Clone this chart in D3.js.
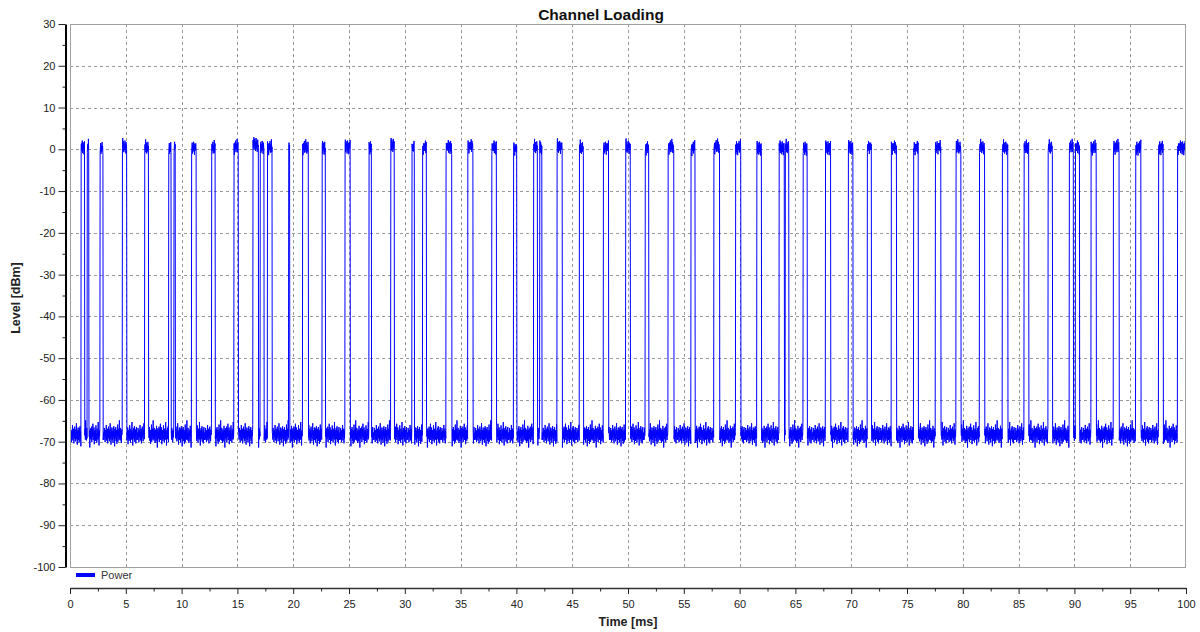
<!DOCTYPE html>
<html><head><meta charset="utf-8">
<script src="https://cdn.jsdelivr.net/npm/d3@7"></script>
<style>
body{margin:0;background:#fff}
svg{display:block}
text{font-family:"Liberation Sans",Arial,sans-serif}
</style>
</head><body>
<svg id="chart" width="1200" height="632"></svg>
<script>
// ---------- data ----------
const chartTitle = "Channel Loading";
const xLabel = "Time [ms]";
const yLabel = "Level [dBm]";
const seriesName = "Power";
const xTicks = [0,5,10,15,20,25,30,35,40,45,50,55,60,65,70,75,80,85,90,95,100];
const yTicks = [30,20,10,0,-10,-20,-30,-40,-50,-60,-70,-80,-90,-100];

// pulse on/off times (ms) and top level (dBm)
const pulseStart = [1.0,1.55,2.7,4.7,6.7,8.85,9.32,10.9,12.7,14.7,16.4,17.05,17.7,19.6,20.85,22.6,24.65,26.8,28.75,30.65,31.6,33.7,35.65,37.8,39.75,41.55,42.1,43.65,45.65,47.8,49.8,51.55,53.6,55.65,57.7,59.65,61.55,63.55,64.1,65.7,67.7,69.75,71.45,73.6,75.6,77.55,79.4,81.5,83.55,85.5,87.65,89.55,90.1,91.5,93.5,95.5,97.55,99.25];
const pulseEnd   = [1.3,1.7,2.97,5.1,7.05,9.07,9.43,11.3,13.0,15.1,16.9,17.4,18.1,19.7,21.35,22.9,25.1,27.0,29.05,30.85,31.95,34.2,36.1,38.2,40.05,41.9,42.3,44.1,46.0,48.25,50.2,51.85,54.1,56.0,58.2,60.1,61.95,64.0,64.4,66.05,68.15,70.15,71.8,74.05,76.0,78.05,79.85,81.95,84.05,85.9,88.05,89.9,90.45,91.95,94.0,95.95,97.95,100];
const pulseLevel = [0.2,0.3,0.1,0.5,0.2,0.1,0.3,0.2,0.0,0.3,1.0,0.4,0.2,0.1,0.2,0.1,0.4,0.2,0.8,0.1,0.2,0.3,0.5,0.2,0.0,0.3,0.2,0.4,0.1,0.2,0.4,0.1,0.3,0.0,0.4,0.2,0.1,0.2,0.3,0.1,0.2,0.3,0.4,0.2,0.1,0.3,0.2,0.3,0.2,0.1,0.2,0.3,0.2,0.1,0.3,0.1,0.2,0.2];

const baselineLevel = -68.3;
const baselineNoise = [0.4,-1.2,1.6,-0.3,0.9,-1.8,0.2,1.1,-0.7,2.3,-1.4,0.6,-0.2,1.4,-2.1,0.8,-0.9,1.9,-0.5,0.3,-1.6,1.2,-0.1,2.7,-1.1,0.5,-2.4,1.0,-0.6,1.7,-1.3,0.1,0.9,-1.9,1.5,-0.4,2.0,-1.0,0.7,-2.8,1.3,-0.8,0.4,1.8,-1.5,0.0,1.1,-2.2,0.6,-0.3,2.4,-1.7,0.9,-0.2,1.4,-1.2,3.4,-0.7,0.2,-1.4,1.6,-0.9,0.5,-2.0,1.2,-0.1,0.8,-1.6,2.1,-0.5,1.0,-3.1,0.3,1.5,-1.1,0.7,-0.4,1.9,-1.8,0.1,1.3,-0.6,2.6,-1.3,0.4,-0.2,1.7,-2.3,0.9,-0.8,1.1,-1.5,0.6,2.2,-1.0,0.2,-1.9,1.4,-0.3,0.8,-1.2,3.0,-0.9,0.5,-2.6,1.0,-0.4,1.6,-1.1,0.3,2.0,-1.7,0.7,-0.6,1.2,-2.1,0.4,1.8,-0.2,-1.3,0.5];
const topNoise = [1.2,-0.6,0.8,1.9,-1.1,0.3,1.5,-0.2,0.9,-1.4,0.6,1.7,-0.8,0.2,1.1,-1.6,0.7,1.3,-0.4,0.0,1.8,-1.0,0.5,1.0,-0.3,2.2,-0.9,0.4,1.4,-1.2,0.8,0.1,-0.7,1.6,-0.1,0.6,-1.5,1.2,0.3,-0.5,0.9];
const sampleStep = 0.025; // ms

// ---------- build series ----------
const samples = [];
const nSamples = Math.round(100 / sampleStep);
let p = 0;
for (let i = 0; i <= nSamples; i++) {
  const t = i * sampleStep;
  while (p < pulseStart.length && t > pulseEnd[p]) p++;
  let v;
  if (p < pulseStart.length && t >= pulseStart[p] && t <= pulseEnd[p]) {
    v = pulseLevel[p] + topNoise[i % topNoise.length];
  } else {
    v = baselineLevel + baselineNoise[i % baselineNoise.length];
  }
  samples.push([t, v]);
}

// ---------- layout ----------
const svg = d3.select("#chart");
const L = 70, R = 1186, T = 24, B = 567;
const x = d3.scaleLinear().domain([0, 100]).range([L, R]);
const y = d3.scaleLinear().domain([-100, 30]).range([B, T]);
const fmt = d => String(d);

// clip
svg.append("defs").append("clipPath").attr("id", "plotclip")
  .append("rect").attr("x", L).attr("y", T).attr("width", R - L).attr("height", B - T);

// grid
const grid = svg.append("g").attr("stroke", "#9a9a9a").attr("stroke-dasharray", "3,3").attr("stroke-width", 1);
grid.selectAll("line.h").data(yTicks.filter(d => d !== 30 && d !== -100)).join("line")
  .attr("x1", L).attr("x2", R)
  .attr("y1", d => Math.round(y(d)) + 0.5).attr("y2", d => Math.round(y(d)) + 0.5);
grid.selectAll("line.v").data(xTicks.filter(d => d !== 0 && d !== 100)).join("line")
  .attr("y1", T).attr("y2", B)
  .attr("x1", d => Math.round(x(d)) + 0.5).attr("x2", d => Math.round(x(d)) + 0.5);

// series line
const line = d3.line().x(d => x(d[0])).y(d => y(d[1]));
svg.append("path").datum(samples)
  .attr("clip-path", "url(#plotclip)")
  .attr("fill", "none").attr("stroke", "#0000ff").attr("stroke-width", 1)
  .attr("d", line);

// plot border
svg.append("rect").attr("x", L + 0.5).attr("y", T + 0.5).attr("width", R - L - 1).attr("height", B - T)
  .attr("fill", "none").attr("stroke", "#a0a0a0");

// y axis
const yAxis = svg.append("g").attr("transform", "translate(65.5,0)")
  .call(d3.axisLeft(y).tickValues(yTicks).tickSize(7).tickSizeOuter(0).tickPadding(3).tickFormat(fmt));
yAxis.select(".domain").attr("stroke", "#000").attr("stroke-width", 2);
yAxis.selectAll(".tick line").attr("stroke", "#222");
yAxis.selectAll("text").attr("font-size", 11).attr("fill", "#222")
  .attr("font-family", "'Liberation Sans',Arial,sans-serif");
const yMinor = yTicks.slice(0, -1).map((d, i) => (d + yTicks[i + 1]) / 2);
svg.append("g").attr("transform", "translate(65.5,0)")
  .call(d3.axisLeft(y).tickValues(yMinor).tickSize(3).tickFormat(""))
  .call(g => g.select(".domain").remove())
  .selectAll("line").attr("stroke", "#222");

// x axis
const xAxis = svg.append("g").attr("transform", "translate(0,588)")
  .call(d3.axisBottom(x).tickValues(xTicks).tickSize(6).tickSizeOuter(0).tickPadding(6).tickFormat(fmt));
xAxis.select(".domain").attr("stroke", "#333").attr("stroke-width", 1.5);
xAxis.selectAll(".tick line").attr("stroke", "#222");
xAxis.selectAll("text").attr("font-size", 11).attr("fill", "#222")
  .attr("font-family", "'Liberation Sans',Arial,sans-serif");
const xMinor = xTicks.slice(0, -1).map((d, i) => (d + xTicks[i + 1]) / 2);
svg.append("g").attr("transform", "translate(0,588)")
  .call(d3.axisBottom(x).tickValues(xMinor).tickSize(3.5).tickFormat(""))
  .call(g => g.select(".domain").remove())
  .selectAll("line").attr("stroke", "#222");

// title & labels
svg.append("text").attr("x", 601).attr("y", 20).attr("text-anchor", "middle")
  .attr("font-size", 15.5).attr("font-weight", "bold").attr("fill", "#111").text(chartTitle);
svg.append("text").attr("x", (L + R) / 2).attr("y", 626).attr("text-anchor", "middle")
  .attr("font-size", 12.5).attr("font-weight", "bold").attr("fill", "#222").text(xLabel);
svg.append("text").attr("transform", "translate(20,298) rotate(-90)").attr("text-anchor", "middle")
  .attr("font-size", 12.5).attr("font-weight", "bold").attr("fill", "#222").text(yLabel);

// legend
svg.append("rect").attr("x", 76).attr("y", 573).attr("width", 19).attr("height", 4).attr("fill", "#0000ff");
svg.append("text").attr("x", 101).attr("y", 579).attr("font-size", 11).attr("fill", "#333").text(seriesName);
</script>
</body></html>
